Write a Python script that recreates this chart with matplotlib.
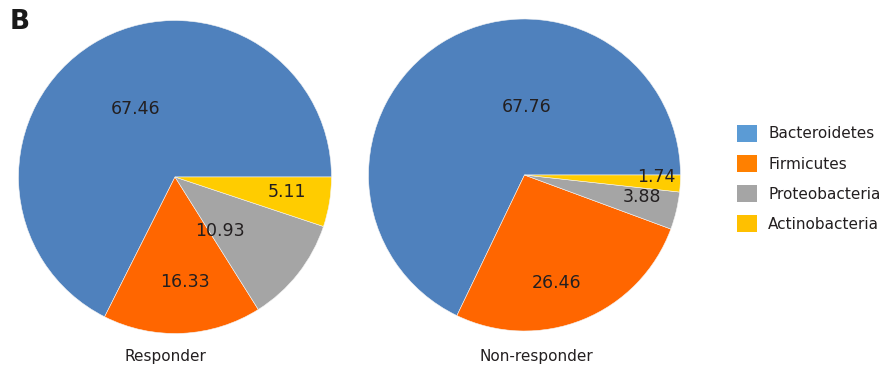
import numpy as np
import matplotlib.pyplot as plt
from matplotlib.patches import Patch

# phylum composition (%) per response group
phyla = ["Bacteroidetes", "Firmicutes", "Proteobacteria", "Actinobacteria"]
responder = [67.46, 16.33, 10.93, 5.11]
non_responder = [67.76, 26.46, 3.88, 1.74]
groups = ["Responder", "Non-responder"]

pie_colors = ["#4F81BD", "#FF6600", "#A5A5A5", "#FFCC00"]
legend_colors = ["#5B9BD5", "#FF8000", "#A5A5A5", "#FFC000"]

# label placement in units of the pie radius (x, y from centre)
label_offsets = [
    [(-0.255, 0.433), (0.064, -0.67), (0.287, -0.344), (0.713, -0.096)],
    [(0.013, 0.433), (0.204, -0.694), (0.75, -0.14), (0.847, -0.013)],
]

W, H = 893, 369
fig = plt.figure(figsize=(W / 100, H / 100), dpi=100)
ax = fig.add_axes([0, 0, 1, 1])

centers = [(175, H - 177), (524.5, H - 175)]
radii = [156.5, 156]

for vals, (cx, cy), r, offs, name in zip([responder, non_responder], centers, radii,
                                        label_offsets, groups):
    ax.pie(vals, colors=pie_colors, startangle=0, counterclock=True,
           center=(cx, cy), radius=r, frame=True,
           wedgeprops=dict(linewidth=0.4, edgecolor="#f4f4f4"))
    for v, (dx, dy) in zip(vals, offs):
        ax.text(cx + dx * r, cy + dy * r, f"{v:.2f}", ha="center", va="center",
                fontsize=12.5, color="#231f20")
    ax.text(cx - 10 if name == "Responder" else cx + 12, H - 356, name,
            ha="center", va="center", fontsize=11, color="#231f20")

ax.set_xlim(0, W)
ax.set_ylim(0, H)
ax.set_aspect("equal")
ax.axis("off")

handles = [Patch(facecolor=c, edgecolor="none") for c in legend_colors]
fig.legend(handles, phyla, loc="upper left", bbox_to_anchor=(723 / W, 1 - 111 / H),
           frameon=False, fontsize=11, handlelength=1.35, handleheight=1.35,
           handletextpad=0.7, labelspacing=0.85, labelcolor="#231f20")

fig.text(10 / W, 1 - 22 / H, "B", fontsize=19, fontweight="bold",
         va="center", ha="left", color="#1a1a1a")

fig.savefig("out.png", dpi=100)
